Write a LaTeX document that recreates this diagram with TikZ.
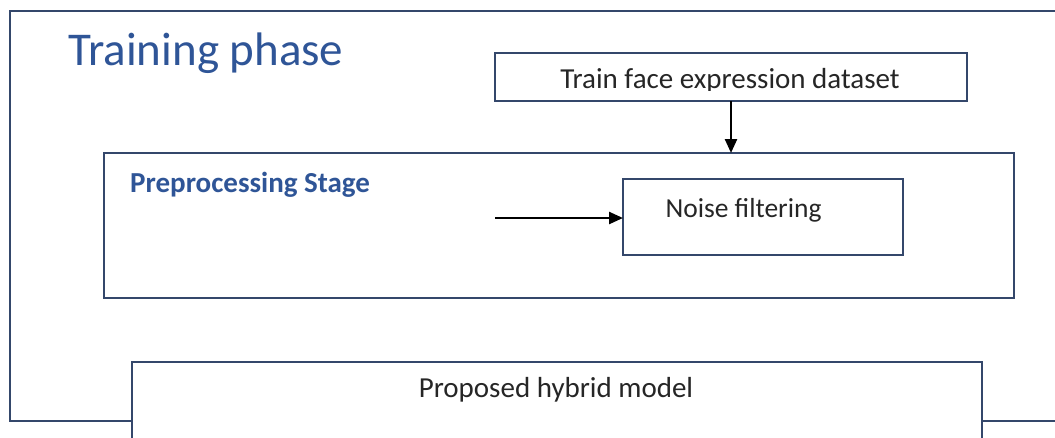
\documentclass[tikz,border=0pt]{standalone}
\usepackage{fontspec}
\setmainfont{Carlito}
\usetikzlibrary{arrows.meta}
\definecolor{frameblue}{HTML}{34476B}
\definecolor{titleblue}{HTML}{2F5597}
\definecolor{textgray}{HTML}{262626}
\tikzset{
  frame/.style={draw=frameblue, line width=2.4pt},
  boxline/.style={draw=frameblue, line width=2.2pt, fill=white},
  conn/.style={draw=black, line width=2.4pt, -{Triangle[length=14pt,width=12pt]}},
  lbl/.style={text=textgray, inner sep=0pt, anchor=base, font=\fontsize{28}{32}\selectfont},
}
\begin{document}
\begin{tikzpicture}[x=1pt,y=-1pt]
\useasboundingbox (0,0) rectangle (1055,437);
\begin{scope}
\clip (0,0) rectangle (1055,437);
% outer frame (Training phase)
\draw[frame] (1070,11) -- (10,11) -- (10,421) -- (1070,421);
\node[inner sep=0pt, anchor=base west, text=titleblue, font=\fontsize{47}{52}\selectfont] (title) at (68,65) {Training phase};
% train dataset box
\draw[boxline] (495,53) rectangle (967,101);
\coordinate (dsS) at (731,101);
\begin{scope}
\clip (495,53) rectangle (967,90);
\node[lbl, font=\fontsize{29}{32}\selectfont] (dstxt) at (730,88.5) {Train face expression dataset};
\end{scope}
% preprocessing box
\draw[boxline] (104,153) rectangle (1014,298);
\coordinate (ppN) at (731,153);
\node[inner sep=0pt, anchor=base west, text=titleblue, font=\bfseries\fontsize{29}{32}\selectfont] (pptxt) at (130,192) {Preprocessing Stage};
% noise filtering
\draw[boxline] (623,179) rectangle (903,255);
\coordinate (nfW) at (623,218);
\coordinate (nfIn) at (495,218);
\node[lbl, font=\fontsize{27.5}{32}\selectfont] (nftxt) at (743.5,217) {Noise filtering};
% proposed hybrid model
\draw[boxline] (132,362) rectangle (982,450);
\node[lbl, font=\fontsize{29}{32}\selectfont] (phtxt) at (556,397) {Proposed hybrid model};
% connectors
\draw[conn] (dsS) -- (ppN);
\draw[conn] (nfIn) -- (nfW);
\end{scope}
\end{tikzpicture}
\end{document}
